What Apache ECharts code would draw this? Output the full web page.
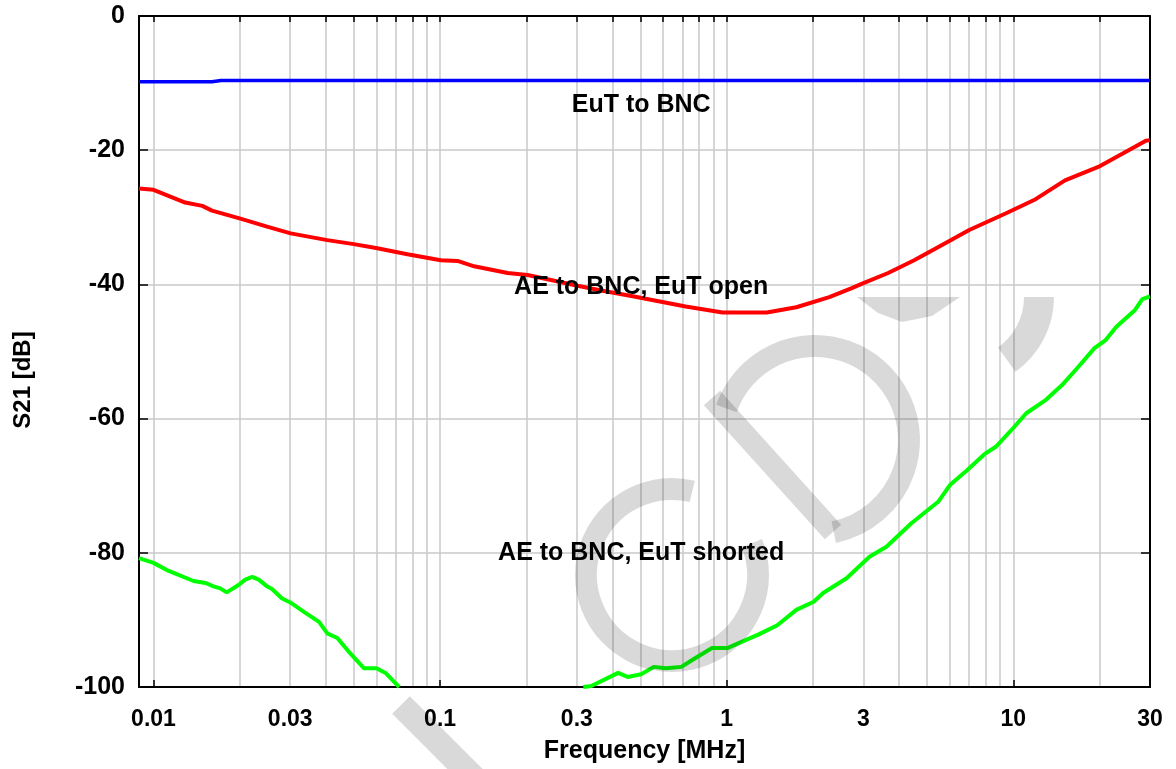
<!DOCTYPE html>
<html>
<head>
<meta charset="utf-8">
<title>S21 vs frequency</title>
<script src="https://cdn.jsdelivr.net/npm/echarts@6/dist/echarts.min.js"></script>
<style>
  html, body { margin: 0; padding: 0; background: #fff; }
  #main { width: 1176px; height: 769px; }
</style>
</head>
<body>
<div id="main"></div>
<script>
// frequency in MHz, S21 in dB
const freqBlue = [0.0089, 0.016, 0.0172, 30];
const s21Blue = [-9.8, -9.8, -9.6, -9.6];

const freqRed = [0.0089, 0.01, 0.0129, 0.0148, 0.016, 0.0201, 0.0249, 0.0301, 0.0404, 0.05,
  0.0604, 0.0769, 0.1005, 0.115, 0.1315, 0.172, 0.202, 0.302, 0.365, 0.475,
  0.719, 0.968, 1.38, 1.75, 2.28, 2.72, 3.0, 3.66, 4.51, 5.54,
  7.02, 9.44, 11.97, 15.15, 19.8, 22.9, 26.6, 29, 30];
const s21Red = [-25.7, -25.9, -27.8, -28.3, -29.0, -30.2, -31.4, -32.4, -33.4, -34.0,
  -34.6, -35.5, -36.4, -36.5, -37.3, -38.3, -38.6, -40.2, -40.9, -41.8,
  -43.3, -44.2, -44.2, -43.4, -41.9, -40.6, -39.8, -38.3, -36.4, -34.3,
  -31.9, -29.4, -27.3, -24.5, -22.5, -21.0, -19.5, -18.6, -18.5];

// null = curve is below -100 dB (off the plot)
const freqGreen = [0.0089, 0.01, 0.0113, 0.0138, 0.0152, 0.0162, 0.0171, 0.018, 0.0198, 0.0209,
  0.0221, 0.0233, 0.0249, 0.0259, 0.0281, 0.03, 0.0335, 0.0378, 0.0404, 0.0438,
  0.0486, 0.0542, 0.06, 0.0645, 0.0705, 0.072, 0.15, 0.316, 0.337, 0.418,
  0.451, 0.503, 0.557, 0.614, 0.695, 0.763, 0.889, 1.005, 1.288, 1.502,
  1.75, 2.012, 2.17, 2.62, 3.15, 3.61, 4.41, 5.47, 6.01, 6.9,
  7.93, 8.69, 10.0, 11.1, 13.0, 14.8, 16.7, 19.2, 21.0, 22.9,
  26.6, 28.2, 30];
const s21Green = [-80.8, -81.5, -82.7, -84.2, -84.5, -85.0, -85.3, -85.9, -84.8, -84.0,
  -83.6, -84.0, -85.0, -85.4, -86.8, -87.4, -88.8, -90.3, -92.0, -92.7,
  -95.0, -97.2, -97.2, -97.9, -99.6, -100, null, -100, -99.85, -97.9,
  -98.5, -98.1, -97.0, -97.2, -97.0, -95.9, -94.2, -94.2, -92.2, -90.8,
  -88.5, -87.3, -86.0, -83.8, -80.6, -79.1, -75.6, -72.4, -69.9, -67.7,
  -65.3, -64.2, -61.4, -59.2, -57.2, -55.0, -52.5, -49.5, -48.3, -46.3,
  -43.8, -42.2, -41.8];

const xLabels = [0.01, 0.03, 0.1, 0.3, 1, 3, 10, 30];
const decades = [0.01, 0.1, 1, 10];
const gridSteps = [1, 2, 3, 4, 5, 6, 7, 8, 9];

const annotationText = ['EuT to BNC', 'AE to BNC, EuT open', 'AE to BNC, EuT shorted'];
const annotationFreq = [0.503, 0.503, 0.503];
const annotationDb = [-13.3, -40.4, -80.0];

const FONT = "'Liberation Sans', Arial, Helvetica, sans-serif";
const F_MIN = 0.0089;
const F_MAX = 30;

// x axis is drawn in log10(f)
const lg = (f) => Math.log10(f);

function toPoints(freqs, vals) {
  return freqs.map((f, i) => [lg(f), vals[i] === null ? '-' : vals[i]]);
}

let gridLog = [];
decades.forEach((d) => {
  gridSteps.forEach((m) => {
    const v = m * d;
    if (v >= F_MIN && v <= F_MAX) gridLog.push(lg(v));
  });
});

const chart = echarts.init(document.getElementById('main'));

const wm = 'rgba(0,0,0,0.15)';

// light grey watermark drawn over the plot
const watermark = [
  { type: 'line', z: 100, silent: true, shape: { x1: 401, y1: 705, x2: 485, y2: 789 },
    style: { stroke: wm, lineWidth: 25 } },
  { type: 'arc', z: 100, silent: true,
    shape: { cx: 672, cy: 575, r: 86, startAngle: -0.38, endAngle: 4.95, clockwise: true },
    style: { stroke: wm, lineWidth: 22, fill: null } },
  { type: 'polyline', z: 100, silent: true,
    shape: { points: [[712, 398], [833, 532]] },
    style: { stroke: wm, lineWidth: 22 } },
  { type: 'arc', z: 100, silent: true,
    shape: { cx: 815, cy: 440, r: 94, startAngle: -2.8, endAngle: 1.37, clockwise: true },
    style: { stroke: wm, lineWidth: 22, fill: null } },
  { type: 'polygon', z: 100, silent: true,
    shape: { points: [[857, 297], [878, 313], [902, 322], [932, 316], [960, 297]] },
    style: { fill: wm } },
  { type: 'arc', z: 100, silent: true,
    shape: { cx: 962, cy: 297, r: 77, startAngle: 0, endAngle: 0.95, clockwise: true },
    style: { stroke: wm, lineWidth: 30, fill: null } },
];

const option = {
  animation: false,
  backgroundColor: '#fff',
  textStyle: { fontFamily: FONT },
  grid: { left: 139, right: 26, top: 16, bottom: 82, containLabel: false },
  xAxis: [
    {
      type: 'value',
      min: lg(F_MIN),
      max: lg(F_MAX),
      axisLine: { onZero: false, lineStyle: { color: '#000', width: 2 } },
      axisTick: {
        inside: true,
        length: 7,
        customValues: decades.map(lg),
        lineStyle: { color: '#000', width: 1.5 },
      },
      axisLabel: {
        customValues: xLabels.map(lg),
        margin: 21,
        color: '#000',
        fontSize: 23,
        fontWeight: 'bold',
        fontFamily: FONT,
        formatter: (v) => String(+Math.pow(10, v).toPrecision(1)),
      },
      splitLine: { show: false },
      name: 'Frequency [MHz]',
      nameLocation: 'middle',
      nameGap: 52,
      nameTextStyle: { color: '#000', fontSize: 25, fontWeight: 'bold', fontFamily: FONT },
    },
    {
      type: 'value',
      position: 'top',
      min: lg(F_MIN),
      max: lg(F_MAX),
      axisLine: { onZero: false, lineStyle: { color: '#000', width: 2 } },
      axisTick: {
        inside: true,
        length: 6,
        customValues: gridLog,
        lineStyle: { color: '#000', width: 1.5 },
      },
      axisLabel: { show: false },
      splitLine: { show: true, lineStyle: { color: '#c8c8c8', width: 1.5 } },
    },
  ],
  yAxis: [
    {
      type: 'value',
      min: -100,
      max: 0,
      interval: 20,
      axisLine: { onZero: false, lineStyle: { color: '#000', width: 2 } },
      axisTick: { inside: true, length: 9, lineStyle: { color: '#000', width: 1.5 } },
      axisLabel: {
        margin: 14,
        color: '#000',
        fontSize: 25,
        fontWeight: 'bold',
        fontFamily: FONT,
      },
      splitLine: { show: true, lineStyle: { color: '#c8c8c8', width: 1.5 } },
      name: 'S21 [dB]',
      nameLocation: 'middle',
      nameGap: 104,
      nameRotate: 90,
      nameTextStyle: {
        color: '#000',
        fontSize: 24,
        fontWeight: 'bold',
        fontFamily: FONT,
        padding: [0, 57, 0, 0],
      },
    },
    {
      type: 'value',
      position: 'right',
      min: -100,
      max: 0,
      interval: 20,
      axisLine: { onZero: false, lineStyle: { color: '#000', width: 2 } },
      axisTick: { inside: true, length: 9, lineStyle: { color: '#000', width: 1.5 } },
      axisLabel: { show: false },
      splitLine: { show: false },
    },
  ],
  series: [
    {
      name: 'EuT to BNC',
      type: 'line',
      data: toPoints(freqBlue, s21Blue),
      showSymbol: false,
      lineStyle: { color: '#0000ff', width: 3.5 },
      z: 3,
    },
    {
      name: 'AE to BNC, EuT open',
      type: 'line',
      data: toPoints(freqRed, s21Red),
      showSymbol: false,
      lineStyle: { color: '#ff0000', width: 4 },
      z: 3,
    },
    {
      name: 'AE to BNC, EuT shorted',
      type: 'line',
      data: toPoints(freqGreen, s21Green),
      showSymbol: false,
      connectNulls: false,
      lineStyle: { color: '#00ff00', width: 4 },
      z: 3,
    },
  ],
  graphic: watermark,
};

chart.setOption(option);

// curve captions, placed at data coordinates
const captions = annotationText.map((t, i) => {
  const p = chart.convertToPixel({ gridIndex: 0 }, [lg(annotationFreq[i]), annotationDb[i]]);
  return {
    type: 'text',
    z: 50,
    silent: true,
    x: p[0],
    y: p[1],
    style: {
      text: t,
      fill: '#000',
      font: 'bold 25px ' + FONT,
      align: 'center',
      verticalAlign: 'middle',
    },
  };
});

chart.setOption({ graphic: watermark.concat(captions) });
</script>
</body>
</html>
